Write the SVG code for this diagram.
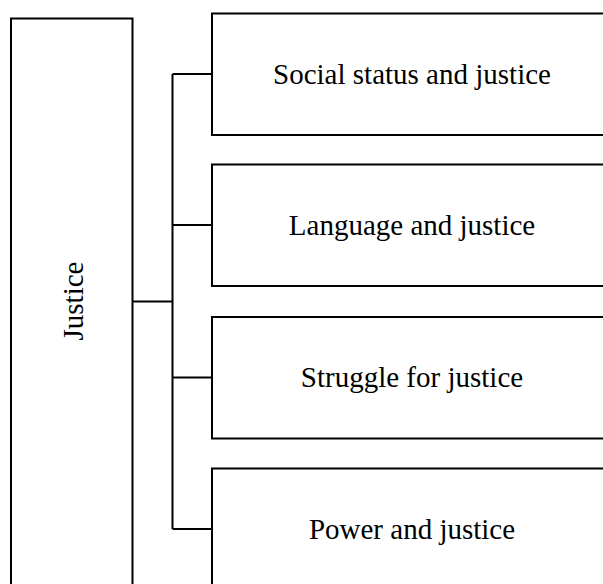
<svg xmlns="http://www.w3.org/2000/svg" width="603" height="584" viewBox="0 0 603 584">
<style>
.box{fill:#fff;stroke:#000;stroke-width:2}
.lbl{font-family:"Liberation Serif","Times New Roman",serif;font-size:29px;fill:#000;text-anchor:middle}
.con{fill:none;stroke:#000;stroke-width:2}
</style>
<rect width="603" height="584" fill="#fff"/>
<g id="connectors">
<path class="con" d="M132.5 301.5H172.5M172.5 74V529M172.5 74H212M172.5 225H212M172.5 377.5H212M172.5 529H212"/>
</g>
<g id="justice">
<rect class="box" x="11" y="18.5" width="121.5" height="570"/>
<text class="lbl" transform="translate(82.5 301) rotate(-90)">Justice</text>
</g>
<g id="social">
<rect class="box" x="212" y="13.5" width="400" height="121.5"/>
<text class="lbl" x="412" y="83.5">Social status and justice</text>
</g>
<g id="language">
<rect class="box" x="212" y="164.5" width="400" height="121.5"/>
<text class="lbl" x="412" y="234.5">Language and justice</text>
</g>
<g id="struggle">
<rect class="box" x="212" y="317" width="400" height="121.5"/>
<text class="lbl" x="412" y="387">Struggle for justice</text>
</g>
<g id="power">
<rect class="box" x="212" y="468.5" width="400" height="121.5"/>
<text class="lbl" x="412" y="538.5">Power and justice</text>
</g>
</svg>
